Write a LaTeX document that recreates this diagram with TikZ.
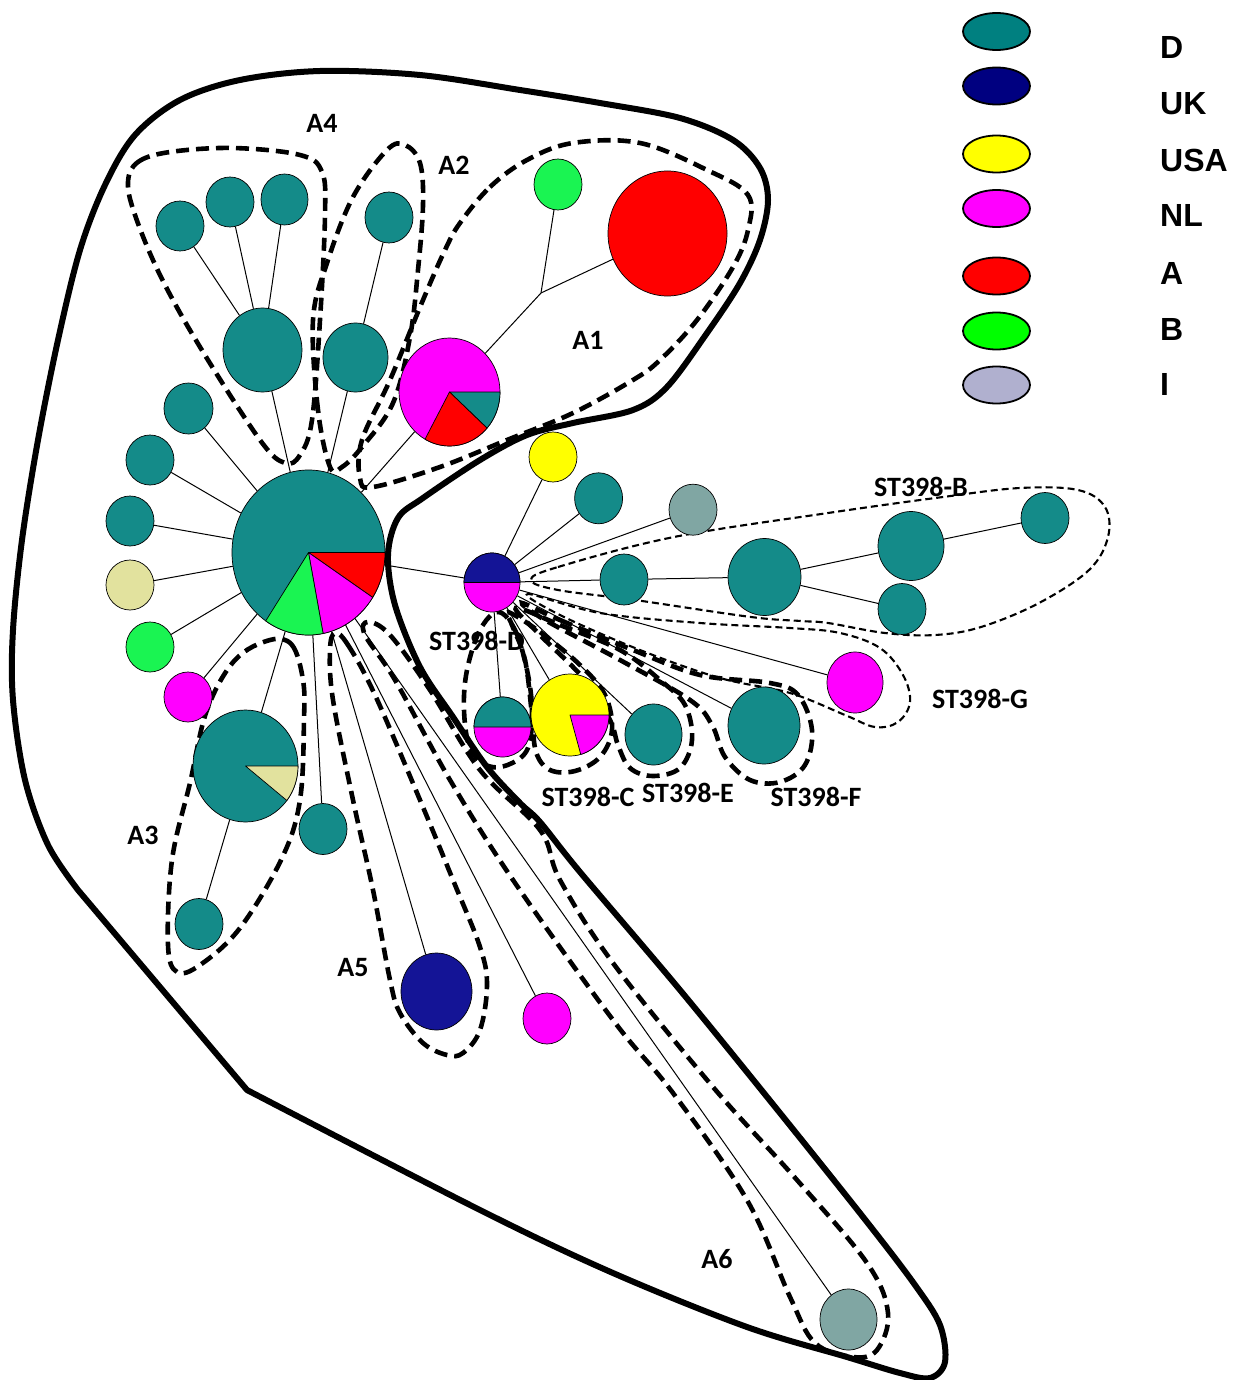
\documentclass[tikz,border=0pt]{standalone}
\usepackage{fontspec}
\newfontfamily\carl{Carlito}
\newfontfamily\arl{Liberation Sans}
\usetikzlibrary{shapes.geometric}
\definecolor{nteal}{HTML}{148B89}
\definecolor{nnavy}{HTML}{141496}
\definecolor{ngreen}{HTML}{1AF452}
\definecolor{ngrey}{HTML}{80A6A3}
\definecolor{nkhaki}{HTML}{E2E29E}
\definecolor{nmag}{HTML}{FF00FF}
\definecolor{nred}{HTML}{FF0000}
\definecolor{nyel}{HTML}{FFFF00}
\definecolor{lteal}{HTML}{008080}
\definecolor{lnavy}{HTML}{000080}
\definecolor{lgreen}{HTML}{00FF00}
\definecolor{llav}{HTML}{B0B0CF}
\newcommand\nn[6]{\node[nd, fill=#6, minimum width=#4pt, minimum height=#5pt] (#1) at (#2,#3) {};}
\newcommand\pslice[6]{\filldraw[fill=#6, line width=0.7pt, line join=round] (#1.center) -- ++(#4:#2 and #3) arc[start angle=#4, end angle=#5, x radius=#2, y radius=#3] -- cycle;}
\begin{document}
\begin{tikzpicture}[x=1pt,y=-1pt,
  nd/.style={ellipse, draw=black, line width=0.7pt, inner sep=0pt},
  edge/.style={line width=1pt},
  outl/.style={line width=6pt, line join=round},
  bigdash/.style={line width=4.6pt, dash pattern=on 13pt off 7pt},
  thindash/.style={line width=2.1pt, dash pattern=on 7pt off 4pt},
  lbl/.style={font=\carl\bfseries\fontsize{28}{30}\selectfont, inner sep=0pt},
  leg/.style={ellipse, draw=black, line width=1.8pt, minimum width=67pt, minimum height=37pt, inner sep=0pt},
  legt/.style={font=\arl\bfseries\fontsize{32}{34}\selectfont, anchor=west, inner sep=0pt}]
\fill[white] (0,0) rectangle (1244,1380);
\useasboundingbox (0,0) rectangle (1244,1380);

% outer outline
\draw[outl] plot[smooth, tension=0.55] coordinates {(247,1090) (480,1210) (613,1273) (747,1327) (847,1357) (900,1373) (930,1378) (945,1362) (940,1325) (915,1285) (867,1222) (780,1113) (680,990) (580,872) (540,822) (520,803) (487,767) (453,717) (420,667) (395,605) (388,555) (398,518) (423,498) (480,460) (527,435) (573,423) (633,410) (667,387) (707,333) (740,283) (760,240) (768,200) (760,168) (733,140) (680,118) (600,103) (520,90) (420,75) (320,71) (240,80) (180,100) (135,135) (105,185) (80,250) (58,340) (38,440) (22,540) (13,630) (13,700) (25,780) (48,845) (78,890)} -- cycle;

% dashed group loops
\draw[bigdash] plot[smooth cycle, tension=0.6] coordinates {(128,182) (138,162) (170,152) (233,148) (300,155) (322,172) (325,215) (320,320) (312,420) (300,455) (285,463) (260,440) (200,347) (160,275) (135,215)};
\draw[bigdash] plot[smooth cycle, tension=0.6] coordinates {(330,467) (318,410) (313,320) (327,263) (353,197) (387,150) (405,145) (420,163) (423,205) (418,270) (410,337) (393,403) (362,447) (342,467)};
\draw[bigdash] plot[smooth cycle, tension=0.6] coordinates {(460,223) (490,187) (527,160) (573,143) (640,143) (707,170) (748,195) (748,230) (733,267) (697,320) (660,360) (633,380) (573,413) (507,440) (440,467) (373,487) (360,478) (362,440) (390,380) (423,300) (445,250)};
\draw[bigdash] plot[smooth cycle, tension=0.6] coordinates {(270,640) (292,645) (303,680) (304,720) (300,800) (282,858) (240,928) (200,965) (177,972) (168,945) (172,860) (190,783) (207,710) (235,660)};
\draw[bigdash] plot[smooth cycle, tension=0.6] coordinates {(335,633) (348,645) (375,695) (420,800) (453,880) (480,947) (487,985) (480,1030) (463,1053) (447,1055) (423,1043) (400,1013) (390,980) (373,890) (353,800) (333,700) (330,650)};
\draw[bigdash] plot[smooth cycle, tension=0.6] coordinates {(368,622) (390,635) (430,690) (480,770) (540,830) (560,880) (613,963) (713,1087) (797,1180) (867,1263) (888,1313) (877,1350) (853,1357) (815,1343) (790,1297) (747,1200) (673,1093) (613,1020) (513,880) (450,780) (395,680) (365,635)};
% ST398 loops
\draw[thindash] plot[smooth cycle, tension=0.6] coordinates {(531,580) (558,567) (674,537) (828,513) (943,497) (1020,488) (1078,490) (1105,507) (1108,537) (1089,570) (1039,603) (981,627) (935,635) (885,633) (828,623) (801,621) (751,617) (635,600) (558,590)};
\draw[thindash] plot[smooth cycle, tension=0.6] coordinates {(528,594) (600,613) (700,623) (790,628) (840,633) (880,648) (903,675) (910,702) (898,722) (875,727) (845,715) (790,693) (720,678) (640,650) (560,615)};
\draw[bigdash] plot[smooth cycle, tension=0.6] coordinates {(522,603) (560,620) (633,650) (700,675) (770,683) (798,695) (812,730) (805,765) (780,782) (750,780) (725,757) (712,725) (690,700) (620,660) (545,620)};
\draw[bigdash] plot[smooth cycle, tension=0.6] coordinates {(516,608) (560,625) (620,650) (660,680) (685,705) (692,740) (680,768) (653,776) (630,768) (618,745) (610,720) (585,680) (540,635)};
\draw[bigdash] plot[smooth cycle, tension=0.6] coordinates {(508,612) (540,632) (580,665) (605,695) (612,730) (600,757) (575,771) (550,770) (536,752) (532,715) (525,660) (512,625)};
\draw[bigdash] plot[smooth cycle, tension=0.6] coordinates {(498,612) (515,630) (527,670) (532,710) (528,748) (510,764) (488,766) (470,748) (464,710) (467,670) (480,630)};

% nodes
\nn{M}{308.5}{552.5}{153}{165}{nteal}
\nn{a4big}{262.5}{350}{79}{84}{nteal}
\nn{a4s1}{180}{226}{48}{50}{nteal}
\nn{a4s2}{230}{202}{48}{50}{nteal}
\nn{a4s3}{284.5}{199.5}{47}{51}{nteal}
\nn{a2big}{355.5}{357.5}{65}{69}{nteal}
\nn{a2s}{389}{217.5}{48}{51}{nteal}
\nn{l1}{188.5}{408.5}{49}{51}{nteal}
\nn{l2}{150}{460}{48}{50}{nteal}
\nn{l3}{130}{521}{48}{50}{nteal}
\nn{l4}{130}{585}{48}{50}{nkhaki}
\nn{l5}{150}{647}{48}{50}{ngreen}
\nn{l6}{188}{697}{48}{50}{nmag}
\nn{a3}{245.5}{766}{105}{112}{nteal}
\nn{a3s}{199}{924}{48}{51}{nteal}
\nn{a3m}{323}{829}{48}{51}{nteal}
\nn{a5}{436.5}{991.5}{71}{77}{nnavy}
\nn{a5m}{547}{1018.5}{48}{51}{nmag}
\nn{a6}{848.5}{1319.5}{57}{61}{ngrey}
\nn{a1p}{449.5}{392}{101}{108}{nmag}
\nn{a1g}{558}{184.5}{48}{51}{ngreen}
\nn{a1r}{667.5}{233.5}{119}{125}{nred}
\nn{hub}{492}{582.5}{56}{59}{nmag}
\nn{ty}{553}{457}{48}{50}{nyel}
\nn{t1}{598.6}{498.3}{48}{51}{nteal}
\nn{g1}{693}{509.7}{48}{51}{ngrey}
\nn{b1}{624}{579.5}{48}{51}{nteal}
\nn{b2}{764.5}{577}{73}{77}{nteal}
\nn{b3}{911}{546}{66}{69}{nteal}
\nn{b4}{1045}{518}{48}{51}{nteal}
\nn{b5}{902}{609}{48}{51}{nteal}
\nn{c1}{502.5}{727}{57}{60}{nmag}
\nn{c2}{570}{715}{78}{82}{nyel}
\nn{e1}{653.5}{734.5}{57}{61}{nteal}
\nn{f1}{764}{725.5}{72}{77}{nteal}
\nn{gm}{855}{682.5}{56}{61}{nmag}
\coordinate (br) at (541,293);

% edges (clipped at node borders)
\foreach \t in {l1,l2,l3,l4,l5,l6,a4big,a2big,a1p,a3,a3m,a5,a5m,a6,hub}{\draw[edge] (M) -- (\t);}
\foreach \t in {a4s1,a4s2,a4s3}{\draw[edge] (a4big) -- (\t);}
\draw[edge] (a2big) -- (a2s);
\draw[edge] (a3) -- (a3s);
\draw[edge] (a1p) -- (br) -- (a1g);
\draw[edge] (br) -- (a1r);
\foreach \t in {ty,t1,g1,b1,c1,c2,e1,f1,gm}{\draw[edge] (hub) -- (\t);}
\draw[edge] (b1) -- (b2) -- (b3) -- (b4);
\draw[edge] (b2) -- (b5);

% pie slices
\pslice{M}{76.5}{82.5}{0}{33}{nred}
\pslice{M}{76.5}{82.5}{33}{79}{nmag}
\pslice{M}{76.5}{82.5}{79}{124}{ngreen}
\pslice{a3}{52.5}{56}{0}{38}{nkhaki}
\pslice{a1p}{50.5}{54}{0}{42}{nteal}
\pslice{a1p}{50.5}{54}{42}{119}{nred}
\pslice{hub}{28}{29.5}{180}{360}{nnavy}
\pslice{c1}{28.5}{30}{180}{360}{nteal}
\pslice{c2}{39}{41}{0}{74}{nmag}

% labels
\node[lbl] (tA4) at (322,123) {A4};
\node[lbl] (tA2) at (454,165) {A2};
\node[lbl] (tA1) at (588,340) {A1};
\node[lbl] (tA3) at (143,835) {A3};
\node[lbl] (tA5) at (353,968) {A5};
\node[lbl] (tA6) at (717,1259) {A6};
\node[lbl] (tB) at (921,487) {ST398-B};
\node[lbl] (tD) at (477,641) {ST398-D};
\node[lbl] (tG) at (980,699) {ST398-G};
\node[lbl] (tC) at (588,797) {ST398-C};
\node[lbl] (tE) at (688,793) {ST398-E};
\node[lbl] (tF) at (816,797) {ST398-F};

% legend
\node[leg, fill=lteal] (kD) at (996.5,31.5) {};
\node[leg, fill=lnavy] (kUK) at (996.5,86) {};
\node[leg, fill=nyel] (kUSA) at (996.5,154) {};
\node[leg, fill=nmag] (kNL) at (996.5,208.5) {};
\node[leg, fill=nred] (kA) at (996.5,276) {};
\node[leg, fill=lgreen] (kB) at (996.5,331) {};
\node[leg, fill=llav] (kI) at (996.5,385) {};
\node[legt] (lD) at (1160,47) {D};
\node[legt] (lUK) at (1160,104) {UK};
\node[legt] (lUSA) at (1160,160) {USA};
\node[legt] (lNL) at (1160,215) {NL};
\node[legt] (lA) at (1160,273) {A};
\node[legt] (lB) at (1160,329) {B};
\node[legt] (lI) at (1160,384) {I};
\end{tikzpicture}
\end{document}
